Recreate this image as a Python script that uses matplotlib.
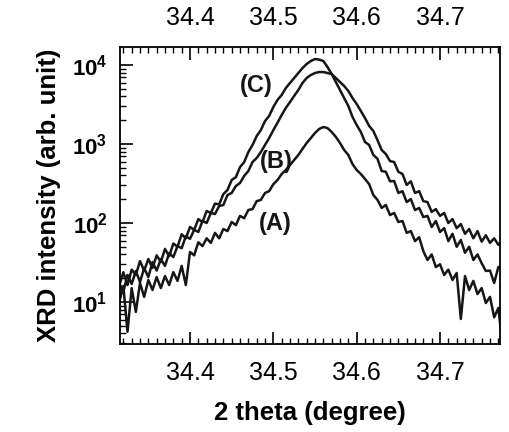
import numpy as np
import matplotlib
matplotlib.use('Agg')
import matplotlib.pyplot as plt
from matplotlib.ticker import MultipleLocator, LogLocator, NullFormatter

# fonts (Arial look-alike)
plt.rcParams['font.family'] = 'Liberation Sans'
plt.rcParams['mathtext.fontset'] = 'custom'
plt.rcParams['mathtext.rm'] = 'Liberation Sans'
plt.rcParams['mathtext.bf'] = 'Liberation Sans:bold'

# XRD scan: start angle and step (degree)
scan_start = 34.315
scan_step = 0.005

# Intensities (arb. unit)
counts_a = [10.0, 16, 4.2, 15, 7.5, 17.4, 11.6, 19, 14.2, 20.7,
            15, 21.3, 16.4, 23.9, 18.5, 28.6, 16.4, 43, 39, 57,
            51, 64, 56, 75, 64, 84, 79, 103, 94, 123,
            115, 146, 150, 189, 196, 240, 253, 310, 350, 417,
            469, 542, 627, 726, 866, 1030, 1190, 1380, 1550, 1640,
            1590, 1420, 1230, 1030, 839, 726, 558, 469, 417, 361,
            310, 226, 196, 155, 169, 126, 134, 103, 106, 75,
            79, 59, 66, 44, 34, 40, 27.7, 30, 22, 25.7,
            19, 23.3, 6.1, 21.3, 14.2, 18.5, 12.6, 15, 9.7, 11.6,
            6.4, 8.4, 2.9]

counts_b = [17.4, 13.4, 22, 16.9, 24.7, 17.9, 26.9, 20.7, 32, 25,
            35, 28.6, 41.7, 37, 51, 48, 68, 63, 82, 77,
            106, 100, 134, 130, 164, 169, 226, 240, 294, 321,
            394, 455, 591, 665, 792, 971, 1190, 1500, 1860, 2330,
            2860, 3400, 4060, 4830, 5920, 6850, 7470, 7920, 8150, 8150,
            7920, 7690, 6850, 6090, 5420, 4690, 3820, 3210, 2620, 2130,
            1690, 1460, 1120, 839, 747, 608, 591, 445, 417, 303,
            337, 240, 253, 189, 184, 138, 150, 123, 134, 100,
            112, 86, 97, 73, 84, 64, 79, 58, 70, 56,
            64, 53, 61]

counts_c = [16.0, 23.8, 16.4, 25.7, 22, 33, 25, 35, 27, 39,
            32, 47, 38, 55, 50, 72, 64, 89, 82, 112,
            103, 142, 134, 176, 172, 232, 262, 350, 380, 510,
            590, 790, 971, 1260, 1500, 1950, 2270, 2940, 3610, 4170,
            5110, 5920, 6850, 7920, 9160, 10300, 11240, 11900, 11700, 11240,
            9440, 7690, 6090, 4830, 3820, 3030, 2200, 1740, 1420, 1060,
            971, 726, 650, 455, 445, 337, 340, 240, 253, 184,
            201, 146, 155, 119, 123, 89, 106, 77, 86, 59,
            73, 50, 61, 42, 50, 34, 40, 31, 24.7, 25,
            17.4, 27.7, 27.7]

two_theta = scan_start + scan_step * np.arange(len(counts_a))

curve_names = ['(A)', '(B)', '(C)']
name_x = [34.502, 34.504, 34.480]
name_y = [100, 592, 5580]

line_color = '#161616'

fig = plt.figure(figsize=(5.1, 4.32), dpi=100)
ax = fig.add_axes([0.2353, 0.2037, 0.7451, 0.6875])

for counts in (counts_a, counts_b, counts_c):
    ax.plot(two_theta, counts, color=line_color, lw=1.8)

for name, tx, ty in zip(curve_names, name_x, name_y):
    ax.text(tx, ty, name, fontsize=17, fontweight='bold', ha='center', va='center',
            color=line_color)

ax.set_yscale('log')
ax.set_xlim(34.316, 34.772)
ax.set_ylim(2.94, 16900)

ax.xaxis.set_major_locator(MultipleLocator(0.1))
ax.xaxis.set_minor_locator(MultipleLocator(0.01))
ax.set_xticks([34.4, 34.5, 34.6, 34.7])
ax.set_xticklabels(['34.4', '34.5', '34.6', '34.7'])

ax.set_yticks([10, 100, 1000, 10000])
ax.set_yticklabels([r'$\mathbf{10^{1}}$', r'$\mathbf{10^{2}}$',
                    r'$\mathbf{10^{3}}$', r'$\mathbf{10^{4}}$'])
ax.yaxis.set_minor_locator(LogLocator(base=10, subs=np.arange(2, 10)))
ax.yaxis.set_minor_formatter(NullFormatter())

ax.tick_params(axis='x', which='both', direction='in', top=True, bottom=True,
               labeltop=True, labelsize=18, pad=12)
ax.tick_params(axis='y', which='both', direction='in', left=True, right=False,
               labelsize=16, pad=9)
ax.tick_params(which='major', length=9, width=1.2)
ax.tick_params(which='minor', length=4.5, width=1.0)

for sp in ax.spines.values():
    sp.set_linewidth(1.3)

ax.set_xlabel('2 theta (degree)', fontsize=18.5, fontweight='bold', labelpad=12)
ax.set_ylabel('XRD intensity (arb. unit)', fontsize=18.5, fontweight='bold', labelpad=8)

fig.savefig('out.png', dpi=100)
